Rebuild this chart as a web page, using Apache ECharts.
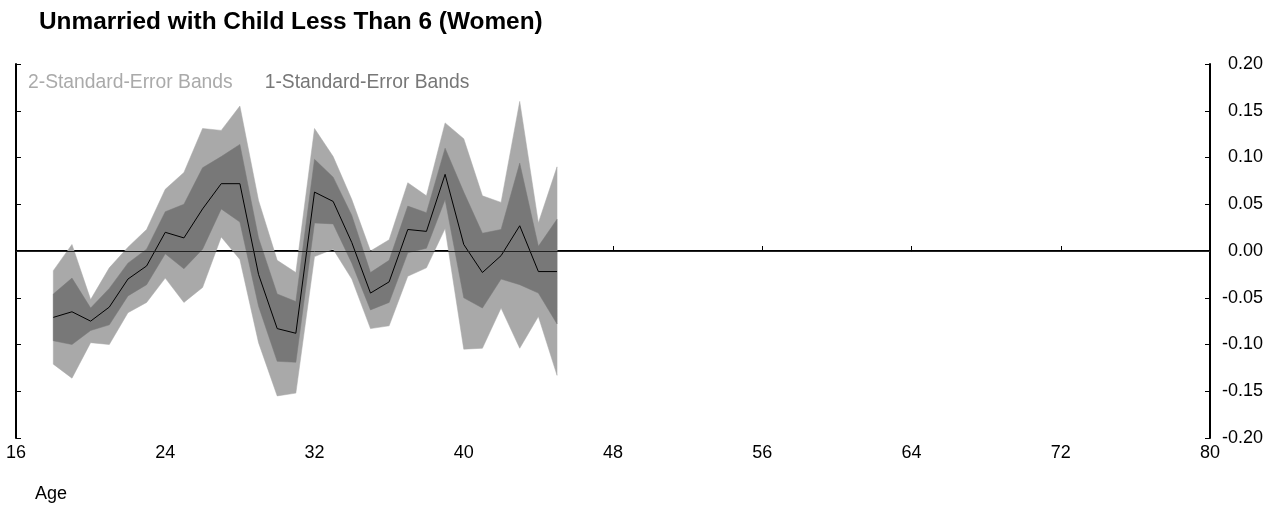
<!DOCTYPE html>
<html>
<head>
<meta charset="utf-8">
<script src="https://cdn.jsdelivr.net/npm/echarts@6/dist/echarts.min.js"></script>
<style>
html,body{margin:0;padding:0;background:#fff;}
#c{width:1283px;height:514px;}
</style>
</head>
<body>
<div id="c"></div>
<script>
const ages = [18,19,20,21,22,23,24,25,26,27,28,29,30,31,32,33,34,35,36,37,38,39,40,41,42,43,44,45];
const center = [-0.071,-0.065,-0.075,-0.060,-0.030,-0.016,0.020,0.014,0.045,0.072,0.072,-0.025,-0.083,-0.088,0.063,0.053,0.009,-0.045,-0.033,0.023,0.021,0.082,0.007,-0.023,-0.005,0.027,-0.022,-0.022];
const upper1 = [-0.046,-0.029,-0.061,-0.040,-0.013,0.002,0.042,0.050,0.089,0.101,0.114,0.014,-0.046,-0.054,0.098,0.079,0.038,-0.023,-0.010,0.048,0.041,0.110,0.063,0.019,0.023,0.094,0.005,0.034];
const lower1 = [-0.096,-0.100,-0.085,-0.079,-0.048,-0.036,-0.003,-0.019,0.002,0.045,0.031,-0.059,-0.118,-0.119,0.030,0.029,-0.013,-0.063,-0.055,-0.002,0.003,0.055,-0.050,-0.061,-0.030,-0.036,-0.045,-0.078];
const upper2 = [-0.021,0.007,-0.052,-0.018,0.004,0.023,0.066,0.084,0.131,0.129,0.155,0.054,-0.010,-0.023,0.131,0.101,0.055,0.000,0.012,0.073,0.059,0.137,0.120,0.059,0.052,0.160,0.030,0.090];
const lower2 = [-0.121,-0.136,-0.098,-0.100,-0.066,-0.055,-0.029,-0.055,-0.039,0.015,-0.009,-0.098,-0.155,-0.152,-0.006,0.002,-0.030,-0.083,-0.080,-0.027,-0.018,0.024,-0.105,-0.104,-0.061,-0.104,-0.070,-0.133];
const xTicks = {min:16, max:80, interval:8};
const yTicks = {min:-0.20, max:0.20, interval:0.05};
const titleText = 'Unmarried with Child Less Than 6 (Women)';
const xName = 'Age';
const name2 = '2-Standard-Error Bands';
const name1 = '1-Standard-Error Bands';

const LIGHT = '#a9a9a9', DARK = '#787878';
const FONT = 'Liberation Sans, Arial, sans-serif';

const pairs = arr => ages.map((a,i)=>[a, arr[i]]);

// band polygon drawn through the axes' coordinate system
function bandSeries(name, hi, lo, color, z) {
  return {
    type:'custom', name:name, silent:true, z:z, clip:true,
    data: ages.map((a,i)=>[a, lo[i], hi[i]]),
    encode:{x:0, y:[1,2]},
    renderItem: function(params, api) {
      if (params.dataIndex !== 0) return null;
      const pts = [];
      for (let i=0;i<ages.length;i++) pts.push(api.coord([ages[i], hi[i]]));
      for (let i=ages.length-1;i>=0;i--) pts.push(api.coord([ages[i], lo[i]]));
      return {type:'polygon', shape:{points:pts}, style:{fill:color, stroke:color, lineWidth:0.5}};
    }
  };
}

const chart = echarts.init(document.getElementById('c'), null, {renderer:'canvas'});
chart.setOption({
  animation:false,
  backgroundColor:'#fff',
  textStyle:{fontFamily:FONT},
  title:{text:titleText, left:34, top:5, textStyle:{fontSize:24.4, fontWeight:'bold', color:'#000', fontFamily:FONT}},
  legend:{
    left:18, top:68, icon:'none', itemWidth:0, itemHeight:0, itemGap:27, selectedMode:false,
    textStyle:{fontSize:19.3, fontFamily:FONT, padding:0},
    data:[{name:name2, textStyle:{color:'#aaaaaa'}},{name:name1, textStyle:{color:'#777777'}}]
  },
  grid:{left:16, right:73, top:64, bottom:76},
  xAxis:{
    type:'value', min:xTicks.min, max:xTicks.max, interval:xTicks.interval,
    axisLine:{show:true, lineStyle:{color:'#000', width:2}},
    axisTick:{show:true, inside:true, length:5, lineStyle:{color:'#000', width:1}},
    axisLabel:{color:'#000', fontSize:18, margin:6, fontFamily:FONT},
    splitLine:{show:false}
  },
  yAxis:[{
    type:'value', position:'left', min:yTicks.min, max:yTicks.max, interval:yTicks.interval,
    axisLine:{show:true, onZero:false, lineStyle:{color:'#000', width:2}},
    axisTick:{show:true, inside:true, length:5, lineStyle:{color:'#000', width:1}},
    axisLabel:{show:false}, splitLine:{show:false}
  },{
    type:'value', position:'right', min:yTicks.min, max:yTicks.max, interval:yTicks.interval,
    axisLine:{show:true, onZero:false, lineStyle:{color:'#000', width:2}},
    axisTick:{show:true, inside:true, length:5, lineStyle:{color:'#000', width:1}},
    axisLabel:{color:'#000', fontSize:18, fontFamily:FONT, align:'right', margin:53,
      formatter:v=>v.toFixed(2)},
    splitLine:{show:false}
  }],
  graphic:[{type:'text', left:35, top:485, style:{text:xName, font:'18px '+FONT, fill:'#000'}}],
  series:[
    bandSeries(name2, upper2, lower2, LIGHT, 1),
    bandSeries(name1, upper1, lower1, DARK, 2),
    {type:'line', name:'estimate', data:pairs(center), showSymbol:false, symbol:'none', silent:true, z:3,
      lineStyle:{color:'#000', width:1},
      markLine:{silent:true, symbol:'none', label:{show:false}, lineStyle:{color:'#222', width:1, type:'solid'},
        data:[{yAxis:0}]}}
  ]
});
</script>
</body>
</html>
